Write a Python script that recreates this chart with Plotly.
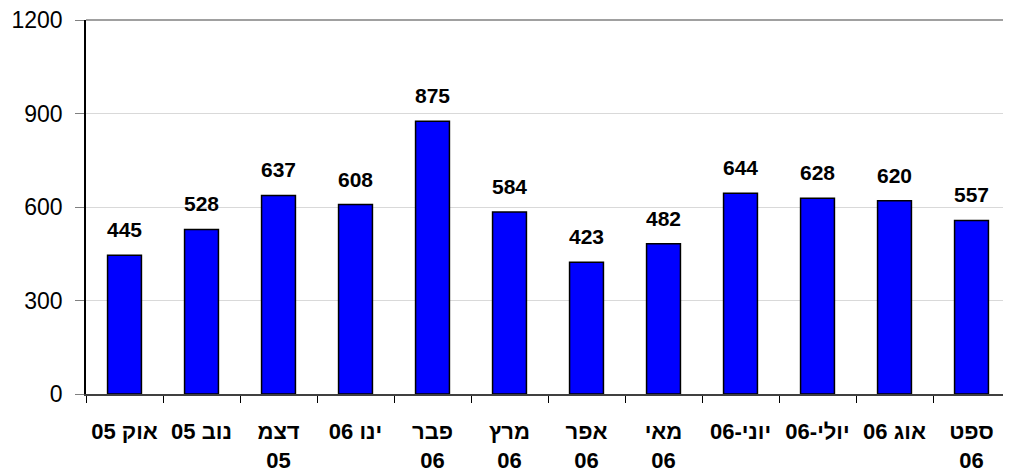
import plotly.graph_objects as go

categories = ["אוק 05", "נוב 05", "דצמ<br>05", "ינו 06", "פבר<br>06", "מרץ<br>06",
              "אפר<br>06", "מאי<br>06", "יוני-06", "יולי-06", "אוג 06", "ספט<br>06"]
values = [445, 528, 637, 608, 875, 584, 423, 482, 644, 628, 620, 557]
y_ticks = [0, 300, 600, 900, 1200]

FONT = "Arial, 'Liberation Sans', sans-serif"

fig = go.Figure()
fig.add_trace(go.Bar(
    x=categories, y=values, width=0.44,
    marker=dict(color="#0000FF", line=dict(color="#000000", width=1.5)),
    hoverinfo="skip",
))
for c, v in zip(categories, values):
    fig.add_annotation(x=c, y=v, text=f"<b>{v}</b>", showarrow=False,
                       yanchor="bottom", yshift=12,
                       font=dict(family=FONT, size=21, color="#000000"))

fig.add_shape(type="line", xref="x domain", yref="y domain", x0=0, x1=1, y0=1, y1=1,
              line=dict(color="#808080", width=1.5))

# page body has an 8px default margin, so the figure is sized/offset to compensate
fig.update_layout(
    width=1003, height=467,
    margin=dict(l=78, r=1, t=12, b=81),
    plot_bgcolor="white", paper_bgcolor="white",
    showlegend=False, bargap=0.56,
    font=dict(family=FONT, color="#000000"),
)
fig.update_xaxes(
    type="category", tickson="boundaries", ticks="outside", ticklen=7,
    tickcolor="#000000", showline=True, linecolor="#404040", linewidth=1.5,
    showgrid=False, tickfont=dict(family=FONT, size=22, color="#000000"),
    tickprefix="<b>", ticksuffix="</b>", automargin=False, ticklabelstandoff=17,
    tickangle=0, ticklabeloverflow="allow",
)
fig.update_yaxes(
    range=[0, 1200], tickvals=y_ticks, ticks="outside", ticklen=9,
    tickcolor="#808080", showline=True, linecolor="#000000", linewidth=1.5,
    showgrid=True, gridcolor="#D9D9D9", gridwidth=1, zeroline=False,
    tickfont=dict(family=FONT, size=23, color="#000000"),
    automargin=False, ticklabelstandoff=8, ticklabeloverflow="allow",
)

fig.write_html("out.html")
